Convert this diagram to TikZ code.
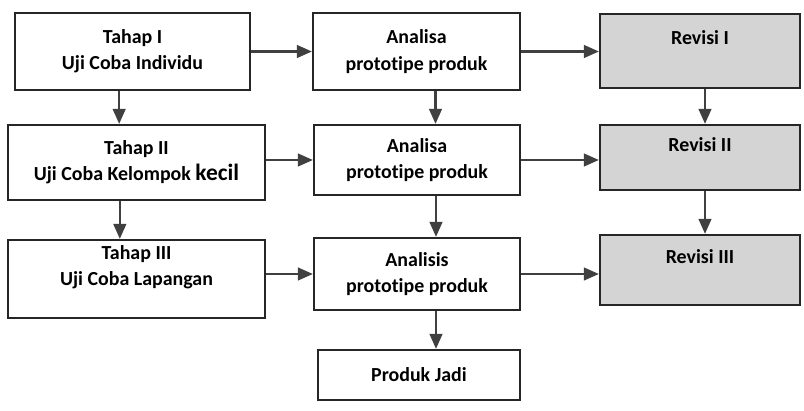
\documentclass[tikz,border=0pt]{standalone}
\usepackage{fontspec}
\setmainfont[Ligatures={NoCommon}]{Carlito}
\usetikzlibrary{arrows.meta,positioning,calc}
\tikzset{
  box/.style={draw=black!85, rectangle, align=center, font=\fontsize{17}{22.5}\selectfont\bfseries, line width=1.9pt, inner sep=2pt, fill=white},
  rev/.style={box, fill=black!17},
  arr/.style={-{Triangle[length=4.5mm, width=3.8mm]}, line width=1.9pt, draw=black!75, fill=black!75},
}
\begin{document}
\begin{tikzpicture}[x=1cm,y=1cm]
\useasboundingbox (0,0) rectangle (24.12,12.33);
% row 1
\node[box, minimum width=7.05cm, minimum height=2.31cm] (t1) at (3.975,10.785) {Tahap I\\Uji Coba Individu};
\node[box, minimum width=6.21cm, minimum height=2.31cm] (a1) at (12.495,10.785) {Analisa\\prototipe produk};
\node[rev, minimum width=6.0cm, minimum height=2.22cm] (r1) at (21.0,10.8) {Revisi I\\\mbox{}};
% row 2
\node[box, minimum width=7.71cm, minimum height=2.25cm] (t2) at (4.095,7.455) {Tahap II\\Uji Coba Kelompok {\fontsize{20}{22.5}\selectfont kecil}};
\node[box, minimum width=6.18cm, minimum height=2.1cm] (a2) at (12.51,7.53) {Analisa\\prototipe produk};
\node[rev, minimum width=6.0cm, minimum height=1.95cm] (r2) at (21.0,7.605) {Revisi II\\\mbox{}};
% row 3
\node[box, minimum width=7.71cm, minimum height=2.34cm] (t3) at (4.095,3.96) {Tahap III\\Uji Coba Lapangan\\\mbox{}};
\node[box, minimum width=6.18cm, minimum height=2.16cm] (a3) at (12.51,4.11) {Analisis\\prototipe produk};
\node[rev, minimum width=6.0cm, minimum height=2.1cm] (r3) at (21.0,4.23) {Revisi III\\\mbox{}};
% end
\node[box, minimum width=6.06cm, minimum height=1.5cm] (pj) at (12.57,1.08) {Produk Jadi};
% across
\draw[arr] (t1.east) -- (a1.west);
\draw[arr] (a1.east) -- (r1.west |- a1.east);
\draw[arr] (a2.west -| t2.east) -- (a2.west);
\draw[arr] (a2.east) -- (r2.west |- a2.east);
\draw[arr] (a3.west -| t3.east) -- (a3.west);
\draw[arr] (a3.east) -- (r3.west |- a3.east);
% down
\draw[arr] ([xshift=-4mm]t1.south) -- ([xshift=-4mm]t1.south |- t2.north);
\draw[arr] ([xshift=-5mm]t2.south) -- ([xshift=-5mm]t2.south |- t3.north);
\draw[arr] ([xshift=5.7mm]a1.south) -- ([xshift=5.7mm]a1.south |- a2.north);
\draw[arr] ([xshift=5.7mm]a2.south) -- ([xshift=5.7mm]a2.south |- a3.north);
\draw[arr] ([xshift=5.7mm]a3.south) -- ([xshift=5.7mm]a3.south |- pj.north);
\draw[arr] ([xshift=1.5mm]r1.south) -- ([xshift=1.5mm]r1.south |- r2.north);
\draw[arr] ([xshift=1.5mm]r2.south) -- ([xshift=1.5mm]r2.south |- r3.north);
\end{tikzpicture}
\end{document}
